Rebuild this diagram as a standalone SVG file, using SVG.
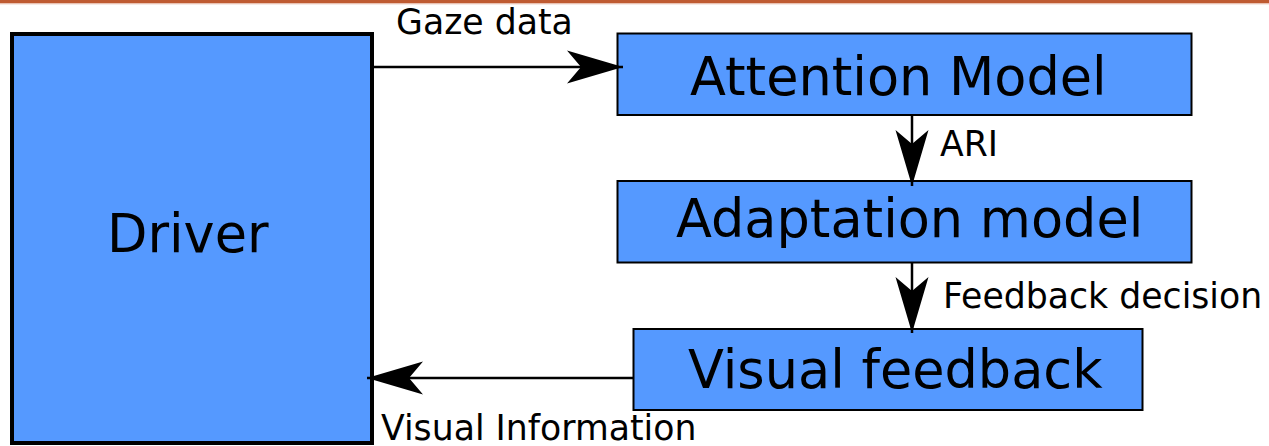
<svg xmlns="http://www.w3.org/2000/svg" width="1269" height="446" viewBox="0 0 1269 446">
  <style>
    .box { fill: #5599ff; stroke: #000; stroke-width: 2; }
    .big { font-family: "DejaVu Sans", sans-serif; font-size: 52.5px; fill: #000; }
    .lbl { font-family: "DejaVu Sans", sans-serif; font-size: 34.7px; fill: #000; }
    .wire { stroke: #000; stroke-width: 2.5; fill: none; marker-end: url(#head); }
  </style>
  <defs>
    <marker id="head" markerUnits="userSpaceOnUse" orient="auto" markerWidth="60" markerHeight="40" viewBox="-58 -18 60 36" refX="0" refY="0" overflow="visible">
      <path d="M0,0 L-56,-16.5 L-42,0 L-56,16.5 Z" fill="#000"/>
    </marker>
  </defs>

  <!-- header rule -->
  <rect x="0" y="0" width="1269" height="3.5" fill="#bf5b32"/>
  <rect x="0" y="3.5" width="1269" height="1" fill="#f1d6cb"/>

  <g id="driver">
    <rect class="box" x="12" y="34" width="360" height="409" style="stroke-width:4"/>
    <text class="big" x="107" y="252">Driver</text>
  </g>

  <g id="attention-model">
    <rect class="box" x="617.5" y="33.5" width="574" height="81.5"/>
    <text class="big" x="690" y="95">Attention Model</text>
  </g>

  <g id="adaptation-model">
    <rect class="box" x="617.5" y="181" width="574" height="81.5"/>
    <text class="big" x="676" y="237">Adaptation model</text>
  </g>

  <g id="visual-feedback">
    <rect class="box" x="633.5" y="329" width="509" height="81"/>
    <text class="big" x="688" y="388">Visual feedback</text>
  </g>

  <g id="connectors">
    <line class="wire" x1="374" y1="67" x2="623" y2="67"/>
    <line class="wire" x1="912" y1="115" x2="912" y2="186"/>
    <line class="wire" x1="912" y1="263" x2="912" y2="333"/>
    <line class="wire" x1="633" y1="378" x2="367" y2="378"/>
    <text class="lbl" x="396" y="34">Gaze data</text>
    <text class="lbl" x="940" y="156">ARI</text>
    <text class="lbl" x="943" y="308">Feedback decision</text>
    <text class="lbl" x="381" y="440">Visual Information</text>
  </g>
</svg>
